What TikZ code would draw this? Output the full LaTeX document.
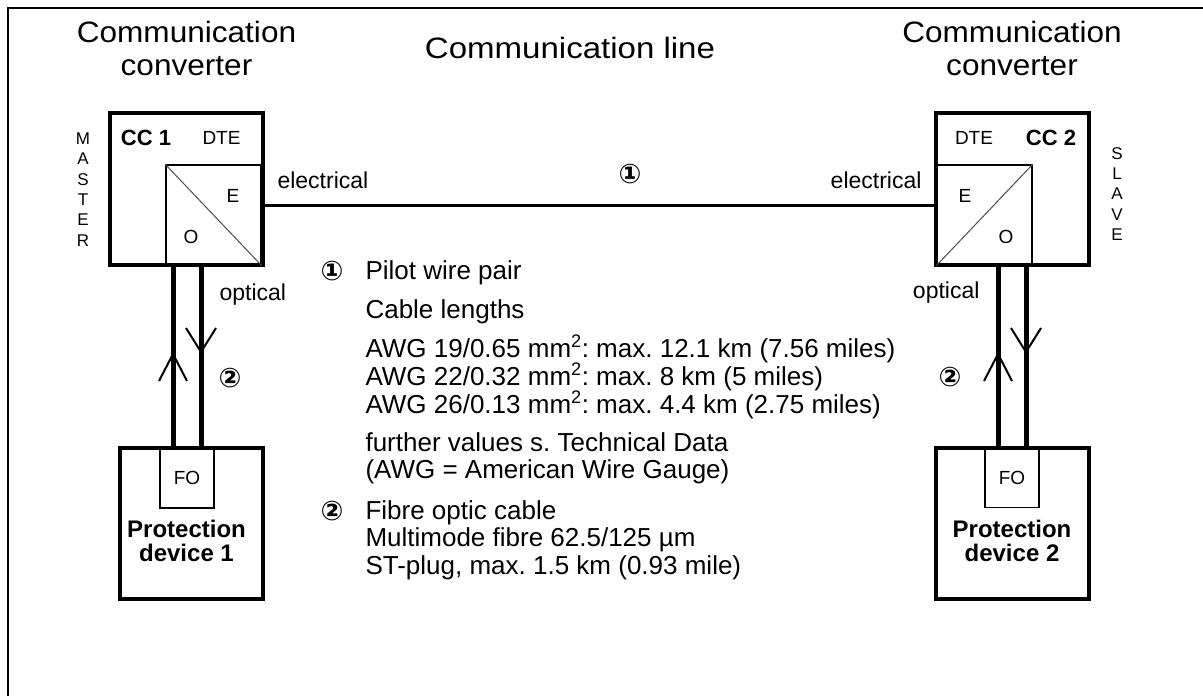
\documentclass[tikz,border=0pt]{standalone}
\usepackage{graphicx}
\usepackage{fontspec}
\setmainfont{Liberation Sans}
\newfontfamily\numfont{DejaVu Sans}
\usetikzlibrary{arrows.meta,positioning,calc}
\newcommand{\fsz}[2]{\fontsize{#1}{#2}\selectfont}
\newcommand{\sx}[2]{\scalebox{#1}[1]{#2}}
\frenchspacing

\begin{document}
\begin{tikzpicture}[x=1pt,y=-1pt,
  unit/.style={draw,line width=4pt,inner sep=0pt,minimum width=153pt,minimum height=152pt},
  conv/.style={draw,line width=1.5pt,inner sep=0pt,minimum width=95pt,minimum height=100pt},
  plug/.style={draw,line width=1.5pt,inner sep=0pt,minimum width=54pt,minimum height=60pt,font=\fsz{19}{22}},
  ttl/.style={font=\fsz{29.5}{33},anchor=base},
  lbl/.style={font=\fsz{23}{26}},
  sml/.style={font=\fsz{19}{22}},
  num/.style={font=\numfont\bfseries\fsz{27}{30},anchor=base},
  txt/.style={font=\fsz{26}{28},anchor=base west},
  dev/.style={font=\bfseries\fsz{24}{24.5},align=center},
  vert/.style={font=\fsz{17}{#1},align=center,inner sep=0pt},
  fibre/.style={line width=5pt},
  chev/.style={line width=2pt},
  wire/.style={line width=3pt}]
  \useasboundingbox (0,0) rectangle (1203,696);
  \draw[line width=2pt](8,696)--(8,8)--(1203,8);
  % titles
  \node[ttl](t1a) at(186.5,42){\sx{1.07}{Communication}};\node[ttl](t1b) at(186.5,75){\sx{1.07}{converter}};
  \node[ttl](t2) at(570,58){\sx{1.12}{Communication line}};
  \node[ttl](t3a) at(1012,42){\sx{1.07}{Communication}};\node[ttl](t3b) at(1012,75){\sx{1.07}{converter}};
  % converters
  \node[unit](cc1) at(186.5,189){};\node[conv](eo1) at(213.5,215){};
  \node[unit](cc2) at(1012,189){};\node[conv](eo2) at(984.5,215){};
  \draw[line width=1pt,black!70](eo1.north west)--(eo1.south east);
  \draw[line width=1pt,black!70](eo2.south west)--(eo2.north east);
  \node[font=\bfseries\fsz{22}{24}](cc1l) at(146,138){CC 1};\node[sml](dte1) at(221.5,138){DTE};
  \node[sml](e1) at(233,196){E};\node[sml](o1) at(191,237){O};
  \node[font=\bfseries\fsz{22}{24}](cc2l) at(1051,138){CC 2};\node[sml](dte2) at(974,138){DTE};
  \node[sml](e2) at(965,196){E};\node[sml](o2) at(1006,237){O};
  \node[vert=20.4](ms) at(83,189.5){M\\A\\S\\T\\E\\R};
  \node[vert=20.4](sl) at(1117,194){S\\L\\A\\V\\E};
  % devices
  \node[unit,minimum width=143pt,minimum height=151pt](pd1) at(191.5,523.5){};\node[plug](fo1) at(187,478){FO};
  \node[unit,minimum height=151pt](pd2) at(1012,523){};\node[plug](fo2) at(1012,477.5){FO};
  \node[dev](pt1) at(186.5,541){Protection\\device 1};
  \node[dev](pt2) at(1012,541){Protection\\device 2};
  % lines
  \draw[wire]([yshift=-16pt]cc1.east)--([yshift=-16pt]cc2.west);
  \node[lbl,anchor=base west](el1) at(274,188){electrical};
  \node[lbl,anchor=base east](el2) at(925,188){electrical};
  \node[num](n1) at(630,183){①};
  \draw[fibre]([xshift=-14pt]fo1.north)--([xshift=-14pt]fo1.north|-cc1.south);
  \draw[fibre]([xshift=14pt]fo1.north)--([xshift=14pt]fo1.north|-cc1.south);
  \draw[fibre]([xshift=-14pt]fo2.north)--([xshift=-14pt]fo2.north|-cc2.south);
  \draw[fibre]([xshift=14pt]fo2.north)--([xshift=14pt]fo2.north|-cc2.south);
  \coordinate(up1) at([xshift=-14pt]fo1.north|-0,354);\coordinate(dn1) at([xshift=14pt]fo1.north|-0,352);
  \coordinate(up2) at([xshift=-14pt]fo2.north|-0,354);\coordinate(dn2) at([xshift=14pt]fo2.north|-0,352);
  \foreach \a in {up1,up2}\draw[chev]($(\a)+(-14,27)$)--(\a)--($(\a)+(14,27)$);
  \foreach \a in {dn1,dn2}\draw[chev]($(\a)+(-15,-24)$)--(\a)--($(\a)+(15,-24)$);
  \node[lbl,anchor=base west](op1) at(216,300){optical};
  \node[lbl,anchor=base east](op2) at(983,298){optical};
  \node[num](n2a) at(230,387){②};\node[num](n2b) at(950,386){②};
  % legend
  \node[num](k1) at(332,280){①};
  \node[txt](p1) at(362,279){Pilot wire pair};
  \node[txt](p2) at(362,318){Cable lengths};
  \node[txt](p3) at(362,357){AWG 19/0.65 mm\textsuperscript{2}: max. 12.1 km (7.56 miles)};
  \node[txt](p4) at(362,385){AWG 22/0.32 mm\textsuperscript{2}: max. 8 km (5 miles)};
  \node[txt](p5) at(362,413){AWG 26/0.13 mm\textsuperscript{2}: max. 4.4 km (2.75 miles)};
  \node[txt](p6) at(362,451){further values s. Technical Data};
  \node[txt](p7) at(362,478){(AWG = American Wire Gauge)};
  \node[num](k2) at(332,520){②};
  \node[txt](f1) at(362,519){Fibre optic cable};
  \node[txt](f2) at(362,546){Multimode fibre 62.5/125 µm};
  \node[txt](f3) at(362,574){ST-plug, max. 1.5 km (0.93 mile)};
\end{tikzpicture}
\end{document}
